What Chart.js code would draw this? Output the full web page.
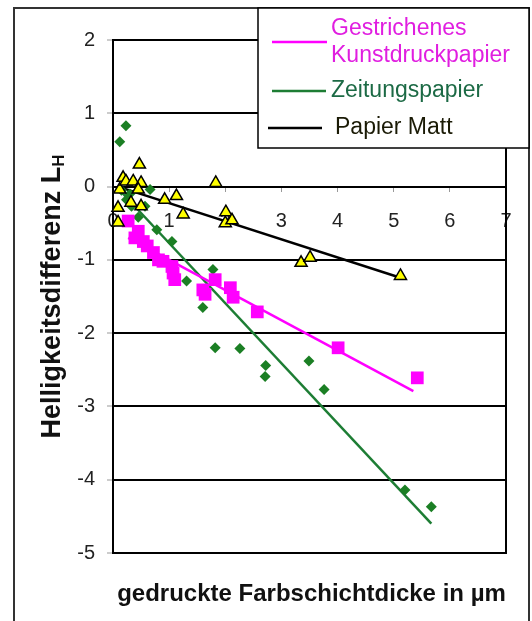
<!DOCTYPE html>
<html>
<head>
<meta charset="utf-8">
<script src="https://cdn.jsdelivr.net/npm/chart.js@4/dist/chart.umd.min.js"></script>
<style>
  html, body { margin: 0; padding: 0; background: #fff; }
  #wrap { width: 532px; height: 621px; }
</style>
</head>
<body>
<div id="wrap"><canvas id="c" width="532" height="621"></canvas></div>
<script>
// Axis ticks
const xTickValues = [0, 1, 2, 3, 4, 5, 6, 7];
const yTickValues = [-5, -4, -3, -2, -1, 0, 1, 2];

const seriesNames = ['Gestrichenes Kunstdruckpapier', 'Zeitungspapier', 'Papier Matt'];

// Gestrichenes Kunstdruckpapier (measured points)
const kunstX = [0.27, 0.39, 0.45, 0.54, 0.61, 0.72, 0.81, 0.89, 1.05, 1.07, 1.10, 1.60, 1.64, 1.82, 2.09, 2.14, 2.57, 4.01, 5.42];
const kunstY = [-0.47, -0.70, -0.61, -0.75, -0.81, -0.90, -1.00, -1.02, -1.09, -1.18, -1.27, -1.41, -1.47, -1.27, -1.38, -1.51, -1.71, -2.20, -2.61];

// Zeitungspapier (measured points)
const zeitungX = [0.12, 0.23, 0.15, 0.24, 0.30, 0.33, 0.45, 0.57, 0.66, 0.78, 1.05, 1.31, 1.60, 1.78, 1.82, 2.26, 2.72, 2.71, 3.49, 3.76, 5.20, 5.67];
const zeitungY = [0.61, 0.83, -0.05, -0.18, -0.10, -0.27, -0.42, -0.27, -0.04, -0.59, -0.75, -1.29, -1.65, -1.13, -2.20, -2.21, -2.44, -2.59, -2.38, -2.77, -4.14, -4.37];

// Papier Matt (measured points)
const mattX = [0.09, 0.09, 0.12, 0.18, 0.23, 0.36, 0.47, 0.50, 0.45, 0.32, 0.50, 0.92, 1.13, 1.25, 1.83, 2.01, 2.00, 2.12, 3.35, 3.51, 5.12];
const mattY = [-0.49, -0.29, -0.04, 0.12, 0.07, 0.07, 0.30, 0.05, -0.04, -0.22, -0.27, -0.18, -0.13, -0.38, 0.05, -0.35, -0.50, -0.46, -1.04, -0.97, -1.22];

// Linear trend lines: endpoints [start, end]
const kunstTrendX = [0.27, 5.35];
const kunstTrendY = [-0.70, -2.79];
const zeitungTrendX = [0.12, 5.67];
const zeitungTrendY = [-0.05, -4.60];
const mattTrendX = [0.09, 5.12];
const mattTrendY = [0.00, -1.245];

const COL_KUNST = '#ff00ff';
const COL_ZEITUNG_LINE = '#1d7d34';
const COL_ZEITUNG_PT = '#1b7f24';
const COL_MATT = '#000000';

const pts = (xs, ys) => xs.map((x, i) => ({ x: x, y: ys[i] }));

const FONT = '"Liberation Sans", Arial, Helvetica, sans-serif';

// White page with an outer frame
const framePlugin = {
  id: 'frame',
  beforeDraw(chart) {
    const ctx = chart.ctx;
    ctx.save();
    ctx.fillStyle = '#fff';
    ctx.fillRect(0, 0, chart.width, chart.height);
    ctx.strokeStyle = '#333';
    ctx.lineWidth = 2;
    ctx.strokeRect(14, 8, 515, 640);
    ctx.restore();
  },
  beforeDatasetsDraw(chart) {
    const a = chart.chartArea;
    const ctx = chart.ctx;
    ctx.save();
    ctx.strokeStyle = '#000';
    ctx.lineWidth = 2;
    ctx.strokeRect(a.left, a.top, a.right - a.left, a.bottom - a.top);
    ctx.restore();
  }
};

// Axis titles (y title carries a subscript)
const titlesPlugin = {
  id: 'titles',
  afterDraw(chart) {
    const ctx = chart.ctx;
    const a = chart.chartArea;
    ctx.save();
    ctx.fillStyle = '#111';
    // x title
    ctx.font = 'bold 24px ' + FONT;
    ctx.textAlign = 'center';
    ctx.textBaseline = 'middle';
    ctx.fillText('gedruckte Farbschichtdicke in µm', (a.left + a.right) / 2 + 2, 594);
    // y title, rotated
    const main = 'Helligkeitsdifferenz L';
    const sub = 'H';
    ctx.font = 'bold 27px ' + FONT;
    const wMain = ctx.measureText(main).width;
    ctx.font = 'bold 17px ' + FONT;
    const wSub = ctx.measureText(sub).width;
    const total = wMain + wSub;
    ctx.translate(60, (a.top + a.bottom) / 2);
    ctx.rotate(-Math.PI / 2);
    ctx.textAlign = 'left';
    ctx.textBaseline = 'alphabetic';
    ctx.font = 'bold 27px ' + FONT;
    ctx.fillText(main, -total / 2, 0);
    ctx.font = 'bold 17px ' + FONT;
    ctx.fillText(sub, -total / 2 + wMain, 4);
    ctx.restore();
  }
};

// Boxed legend in the upper right corner
const legendPlugin = {
  id: 'boxLegend',
  afterDraw(chart) {
    const ctx = chart.ctx;
    ctx.save();
    ctx.fillStyle = '#fff';
    ctx.fillRect(258, 8, 271, 140);
    ctx.strokeStyle = '#000';
    ctx.lineWidth = 1.5;
    ctx.strokeRect(258, 8, 271, 140);
    ctx.lineWidth = 2.5;
    const entries = [
      { color: COL_KUNST, text: ['Gestrichenes', 'Kunstdruckpapier'], textColor: '#e01ee0', lineY: 42, textY: [29, 56], x0: 272, x1: 327, tx: 331 },
      { color: COL_ZEITUNG_LINE, text: ['Zeitungspapier'], textColor: '#1c6a45', lineY: 91, textY: [91], x0: 272, x1: 326, tx: 331 },
      { color: COL_MATT, text: ['Papier Matt'], textColor: '#1a1a05', lineY: 128, textY: [128], x0: 268, x1: 322, tx: 335 }
    ];
    ctx.font = '23px ' + FONT;
    ctx.textAlign = 'left';
    ctx.textBaseline = 'middle';
    entries.forEach(e => {
      ctx.strokeStyle = e.color;
      ctx.beginPath();
      ctx.moveTo(e.x0, e.lineY);
      ctx.lineTo(e.x1, e.lineY);
      ctx.stroke();
      ctx.fillStyle = e.textColor;
      e.text.forEach((t, i) => ctx.fillText(t, e.tx, e.textY[i]));
    });
    ctx.restore();
  }
};

const trend = (label, xs, ys, color, order) => ({
  type: 'line',
  label: label,
  data: pts(xs, ys),
  borderColor: color,
  borderWidth: 2.5,
  pointRadius: 0,
  fill: false,
  order: order
});

new Chart(document.getElementById('c'), {
  type: 'scatter',
  data: {
    datasets: [
      {
        label: seriesNames[2],
        data: pts(mattX, mattY),
        pointStyle: 'triangle',
        pointRadius: 7,
        backgroundColor: '#ffff00',
        borderColor: '#000',
        borderWidth: 1.5,
        clip: false,
        order: 0
      },
      {
        label: seriesNames[0],
        data: pts(kunstX, kunstY),
        pointStyle: 'rect',
        pointRadius: 9,
        backgroundColor: COL_KUNST,
        borderColor: COL_KUNST,
        borderWidth: 0,
        clip: false,
        order: 1
      },
      {
        label: seriesNames[1],
        data: pts(zeitungX, zeitungY),
        pointStyle: 'rectRot',
        pointRadius: 5.5,
        backgroundColor: COL_ZEITUNG_PT,
        borderColor: COL_ZEITUNG_PT,
        borderWidth: 0,
        clip: false,
        order: 2
      },
      trend(seriesNames[0] + ' Trend', kunstTrendX, kunstTrendY, COL_KUNST, 3),
      trend(seriesNames[1] + ' Trend', zeitungTrendX, zeitungTrendY, COL_ZEITUNG_LINE, 4),
      trend(seriesNames[2] + ' Trend', mattTrendX, mattTrendY, COL_MATT, 5)
    ]
  },
  options: {
    responsive: false,
    devicePixelRatio: 1,
    animation: false,
    events: [],
    layout: { padding: { left: 0, right: 26, top: 40, bottom: 68 } },
    plugins: {
      legend: { display: false },
      tooltip: { enabled: false },
      title: { display: false }
    },
    scales: {
      x: {
        type: 'linear',
        position: { y: 0 },
        min: xTickValues[0],
        max: xTickValues[xTickValues.length - 1],
        afterBuildTicks: s => { s.ticks = xTickValues.map(v => ({ value: v })); },
        grid: { drawOnChartArea: false, drawTicks: true, tickLength: 5, tickColor: '#999', lineWidth: 1 },
        border: { display: false },
        ticks: { font: { family: FONT, size: 20 }, color: '#222', padding: 18, maxRotation: 0 }
      },
      y: {
        type: 'linear',
        position: 'left',
        min: yTickValues[0],
        max: yTickValues[yTickValues.length - 1],
        afterBuildTicks: s => { s.ticks = yTickValues.map(v => ({ value: v })); },
        afterFit: s => { s.width = 113; },
        grid: { color: '#000', lineWidth: 2, drawTicks: true, tickLength: 6, tickColor: '#999', tickWidth: 1 },
        border: { display: true, color: '#000', width: 2 },
        ticks: { font: { family: FONT, size: 20 }, color: '#222', padding: 12 }
      }
    }
  },
  plugins: [framePlugin, titlesPlugin, legendPlugin]
});
</script>
</body>
</html>
